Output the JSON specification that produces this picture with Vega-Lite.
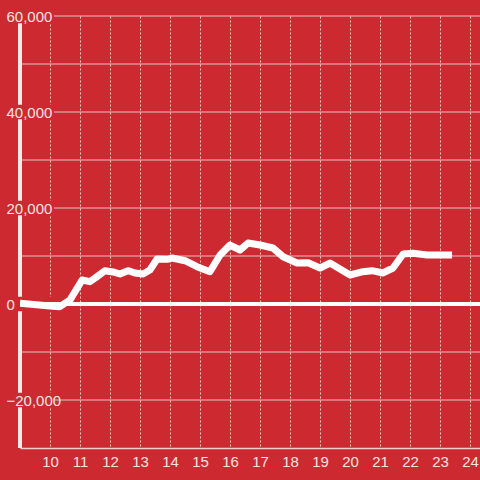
{
  "$schema": "https://vega.github.io/schema/vega-lite/v6.json",
  "width": 460,
  "height": 432,
  "autosize": {"type": "none"},
  "padding": {"left": 20, "top": 16, "right": 0, "bottom": 32},
  "background": "#CC2A30",
  "config": {
    "view": {"stroke": null},
    "font": "Liberation Sans",
    "numberFormat": ",.0f",
    "axisX": {
      "title": null, "tickCount": 15, "grid": true, "gridColor": "#E6D0D0", "gridDash": [2, 2], "gridWidth": 1,
      "ticks": false, "labelPadding": 6,
      "labelFont": "Liberation Sans", "labelFontSize": 15, "labelColor": "#F3E2E2",
      "domainColor": "#E6D0D0", "domainWidth": 1.5,
      "labelFlush": false, "labelOverlap": false
    },
    "axisY": {
      "title": null, "tickCount": 5, "grid": false, "domain": false,
      "ticks": false, "labelAlign": "left", "labelPadding": 14,
      "labelFont": "Liberation Sans", "labelFontSize": 15, "labelColor": "#F3E2E2",
      "labelFlush": false, "labelOverlap": false
    }
  },
  "datasets": {
    "series": [
      {"x": 9.0, "y": 150}, {"x": 10.0, "y": -400}, {"x": 10.33, "y": -550},
      {"x": 10.67, "y": 850}, {"x": 11.07, "y": 5000}, {"x": 11.33, "y": 4650},
      {"x": 11.5, "y": 5400}, {"x": 11.83, "y": 6940}, {"x": 12.1, "y": 6670},
      {"x": 12.33, "y": 6250}, {"x": 12.6, "y": 6940}, {"x": 12.83, "y": 6460},
      {"x": 13.1, "y": 6250}, {"x": 13.33, "y": 7080}, {"x": 13.57, "y": 9375},
      {"x": 13.9, "y": 9300}, {"x": 14.07, "y": 9580}, {"x": 14.5, "y": 9020},
      {"x": 14.9, "y": 7770}, {"x": 15.33, "y": 6730}, {"x": 15.67, "y": 10200},
      {"x": 16.0, "y": 12290}, {"x": 16.33, "y": 11250}, {"x": 16.6, "y": 12700},
      {"x": 17.0, "y": 12290}, {"x": 17.43, "y": 11670}, {"x": 17.77, "y": 9850},
      {"x": 18.23, "y": 8540}, {"x": 18.6, "y": 8600}, {"x": 19.0, "y": 7500},
      {"x": 19.33, "y": 8540}, {"x": 20.0, "y": 6040}, {"x": 20.43, "y": 6730},
      {"x": 20.73, "y": 6940}, {"x": 21.1, "y": 6460}, {"x": 21.43, "y": 7500},
      {"x": 21.77, "y": 10420}, {"x": 22.1, "y": 10560}, {"x": 22.57, "y": 10200},
      {"x": 23.4, "y": 10200}
    ],
    "grid": [
      {"g": -20000}, {"g": -10000}, {"g": 10000}, {"g": 20000},
      {"g": 30000}, {"g": 40000}, {"g": 50000}, {"g": 60000}
    ],
    "labels": [
      {"v": -20000}, {"v": 0}, {"v": 20000}, {"v": 40000}, {"v": 60000}
    ]
  },
  "layer": [
    {
      "data": {"name": "grid"},
      "mark": {"type": "rule", "color": "#D9C3C3", "strokeWidth": 1},
      "encoding": {
        "y": {"field": "g", "type": "quantitative", "scale": {"domain": [-30000, 60000], "nice": false},
          "axis": {"zindex": 1, "grid": false, "domain": false, "ticks": false, "labelAlign": "left", "labelPadding": 14, "labelFontSize": 15, "labelColor": "#F3E2E2", "title": null}}
      }
    },
    {
      "data": {"name": "labels"},
      "mark": {"type": "rule", "color": "#F3E9E9", "strokeWidth": 3.5},
      "encoding": {
        "x": {"datum": 9, "type": "quantitative", "scale": {"domain": [9.001, 24.33], "nice": false, "zero": false}}
      }
    },
    {
      "data": {"name": "labels"},
      "mark": {"type": "point", "shape": "M-1,-0.27L1,-0.27L1,0.27L-1,0.27Z", "filled": true, "color": "#CC2A30", "opacity": 1, "strokeWidth": 0, "size": 2916},
      "encoding": {
        "x": {"datum": 9.233, "type": "quantitative"},
        "y": {"field": "v", "type": "quantitative",
          "axis": {"zindex": 1, "grid": false, "domain": false, "ticks": false, "labelAlign": "left", "labelPadding": 14, "labelFontSize": 15, "labelColor": "#F3E2E2", "title": null}}
      }
    },
    {
      "data": {"name": "series"},
      "mark": {"type": "rule", "color": "#FFFFFF", "strokeWidth": 3},
      "encoding": {"y": {"datum": 0, "type": "quantitative",
        "axis": {"zindex": 1, "grid": false, "domain": false, "ticks": false, "labelAlign": "left", "labelPadding": 14, "labelFontSize": 15, "labelColor": "#F3E2E2", "title": null}}}
    },
    {
      "data": {"name": "series"},
      "mark": {"type": "line", "color": "#FFFFFF", "strokeWidth": 7, "strokeJoin": "round", "clip": true},
      "encoding": {
        "x": {"field": "x", "type": "quantitative"},
        "y": {"field": "y", "type": "quantitative",
          "axis": {"zindex": 1, "grid": false, "domain": false, "ticks": false, "labelAlign": "left", "labelPadding": 14, "labelFontSize": 15, "labelColor": "#F3E2E2", "title": null}}
      }
    }
  ]
}
